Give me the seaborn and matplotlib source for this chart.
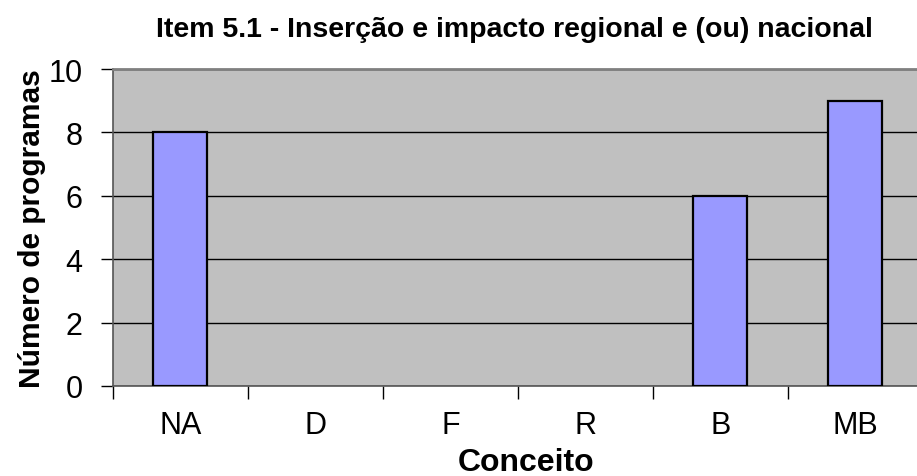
import matplotlib
matplotlib.use('Agg')
import matplotlib.pyplot as plt
import seaborn as sns
import pandas as pd

# values
conceitos = ['NA', 'D', 'F', 'R', 'B', 'MB']
programas = [8, 0, 0, 0, 6, 9]

df = pd.DataFrame({'Conceito': conceitos, 'Programas': programas})

sns.set_style('white')
plt.rcParams['font.family'] = ['Liberation Sans', 'DejaVu Sans']
plt.rcParams['text.color'] = 'black'
plt.rcParams['axes.labelcolor'] = 'black'
plt.rcParams['xtick.color'] = 'black'
plt.rcParams['ytick.color'] = 'black'

fig = plt.figure(figsize=(9.17, 4.77), dpi=100)
ax = fig.add_axes([0.1232, 0.1887, 0.883, 0.6645])
ax.set_facecolor('#C0C0C0')

sns.barplot(data=df, x='Conceito', y='Programas', color='#9999FF',
            saturation=1, width=0.4, edgecolor='black', linewidth=1.6,
            ax=ax, zorder=3)

# empty categories have no visible bar
for patch in ax.patches:
    if patch.get_height() == 0:
        patch.set_visible(False)

ax.set_ylim(0, 10)
ax.set_xlim(-0.5, 5.5)
ax.set_yticks(range(0, 11, 2))
ax.yaxis.grid(True, color='black', linewidth=1)
ax.set_axisbelow(True)

# ticks at category boundaries, labels at centres
ax.set_xticks([i + 0.5 for i in range(-1, 6)], minor=True)
ax.tick_params(axis='x', which='major', length=0, pad=17, labelsize=22)
ax.tick_params(axis='x', which='minor', length=9, width=1, color='black', direction='out')
ax.tick_params(axis='y', length=9, width=1, color='black', direction='out', pad=13, labelsize=22)
ax.xaxis.set_ticks_position('bottom')
ax.yaxis.set_ticks_position('left')

for side in ['left', 'bottom']:
    ax.spines[side].set_color('#555555')
    ax.spines[side].set_linewidth(1.2)
ax.spines['top'].set_color('#808080')
ax.spines['top'].set_linewidth(2)
ax.spines['right'].set_visible(False)

ax.set_xlabel('Conceito', fontsize=23, fontweight='bold')
ax.xaxis.set_label_coords(0.51, -0.193)
ax.set_ylabel('Número de programas', fontsize=21.5, fontweight='bold', labelpad=2)
ax.set_title('Item 5.1 - Inserção e impacto regional e (ou) nacional',
             fontsize=20.5, fontweight='bold', pad=24, x=0.496)

fig.savefig('out.png', dpi=100)
